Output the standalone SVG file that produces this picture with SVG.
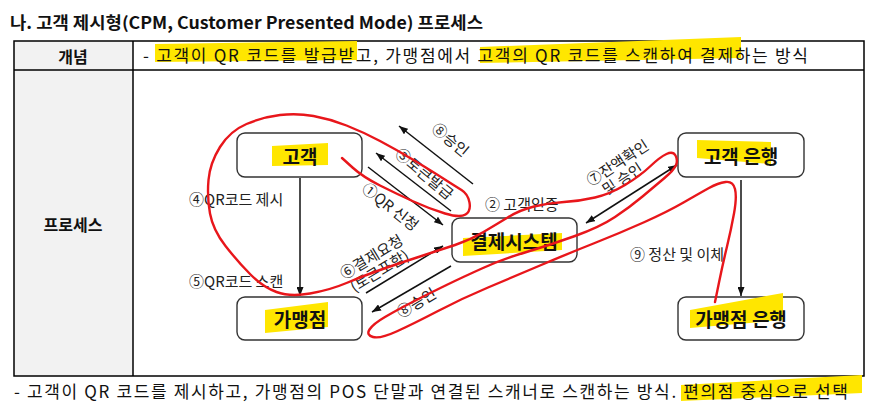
<svg xmlns="http://www.w3.org/2000/svg" width="882" height="416" viewBox="0 0 882 416">
<style>
text{font-family:"Noto Sans CJK KR","Noto Sans",sans-serif;fill:#111}
.title{font-size:16.5px;font-weight:bold}
.hdr{font-size:16px;font-weight:bold}
.body{font-size:17px}
.node rect{fill:#fff;stroke:#333;stroke-width:1.4}
.nlabel{font-size:19px;font-weight:bold}
.lbl{font-size:15px;fill:#222}
.conn line{stroke:#111;stroke-width:1.5}
.hl{fill:#ffe600}
.red{fill:none;stroke:#e8161b;stroke-width:2.4;stroke-linecap:round;stroke-linejoin:round}
</style>
<defs>
<marker id="ah" viewBox="0 0 9 7" refX="9" refY="3.5" markerWidth="9" markerHeight="7" markerUnits="userSpaceOnUse" orient="auto-start-reverse">
<path d="M0,0 L9,3.5 L0,7 z" fill="#111"/>
</marker>
</defs>
<rect width="882" height="416" fill="#fff"/>
<text class="title" x="10" y="29" textLength="473" lengthAdjust="spacingAndGlyphs">나. 고객 제시형(CPM, Customer Presented Mode) 프로세스</text>
<g id="table">
<rect x="14" y="41" width="119" height="335" fill="#f2f2f2"/>
<rect x="14" y="41" width="850" height="335" fill="none" stroke="#000" stroke-width="1.5"/>
<line x1="14" y1="70" x2="864" y2="70" stroke="#000" stroke-width="1.5"/>
<line x1="133" y1="41" x2="133" y2="376" stroke="#000" stroke-width="1.5"/>
<polygon class="hl" points="155,44 357,41 357,60 155,62"/>
<polygon class="hl" points="480,47 741,37 741,58 480,63"/>
<text class="hdr" x="73" y="56" text-anchor="middle" dominant-baseline="central">개념</text>
<text class="hdr" x="73" y="224" text-anchor="middle" dominant-baseline="central">프로세스</text>
<text class="body" x="143" y="62" textLength="665" lengthAdjust="spacing">- 고객이 QR 코드를 발급받고, 가맹점에서 고객의 QR 코드를 스캔하여 결제하는 방식</text>
</g>
<g id="node-customer" class="node">
<rect x="237" y="133" width="125" height="44" rx="8"/>
<polygon class="hl" points="272,146 328,143 328,165 272,166"/>
<text class="nlabel" x="300" y="155" text-anchor="middle" dominant-baseline="central">고객</text>
</g>
<g id="node-merchant" class="node">
<rect x="237" y="297" width="125" height="43" rx="8"/>
<polygon class="hl" points="265,310 328,302 328,327 265,333"/>
<text class="nlabel" x="300" y="318" text-anchor="middle" dominant-baseline="central">가맹점</text>
</g>
<g id="node-payment" class="node">
<rect x="452" y="218" width="125" height="44" rx="8"/>
<polygon class="hl" points="463,238 562,233 562,250 463,256"/>
<text class="nlabel" x="514" y="240" text-anchor="middle" dominant-baseline="central">결제시스템</text>
</g>
<g id="node-custbank" class="node">
<rect x="678" y="133" width="126" height="44" rx="8"/>
<polygon class="hl" points="697,140 771,142 771,164 697,158"/>
<text class="nlabel" x="741" y="155" text-anchor="middle" dominant-baseline="central">고객 은행</text>
</g>
<g id="node-merchbank" class="node">
<rect x="678" y="297" width="126" height="43" rx="8"/>
<polygon class="hl" points="690,310 783,293 783,320 690,328"/>
<text class="nlabel" x="741" y="318" text-anchor="middle" dominant-baseline="central">가맹점 은행</text>
</g>
<g id="connectors" class="conn">
<line x1="300" y1="178" x2="300" y2="296" marker-end="url(#ah)"/>
<line x1="368" y1="167" x2="443" y2="225" marker-end="url(#ah)"/>
<line x1="451" y1="211" x2="376" y2="153" marker-end="url(#ah)"/>
<line x1="473" y1="184" x2="399" y2="126" marker-end="url(#ah)"/>
<line x1="366" y1="293" x2="443" y2="246" marker-end="url(#ah)"/>
<line x1="451" y1="266" x2="372" y2="312" marker-end="url(#ah)"/>
<line x1="586" y1="223" x2="677" y2="165" marker-start="url(#ah)" marker-end="url(#ah)"/>
<line x1="741" y1="180" x2="741" y2="296" marker-end="url(#ah)"/>
</g>
<g id="labels">
<text class="lbl" x="189" y="198" dominant-baseline="central">④QR코드 제시</text>
<text class="lbl" x="189" y="280" dominant-baseline="central">⑤QR코드 스캔</text>
<text class="lbl" x="485" y="203" dominant-baseline="central">② 고객인증</text>
<text class="lbl" x="630" y="253" dominant-baseline="central">⑨ 정산 및 이체</text>
<text class="lbl" transform="translate(391,206) rotate(38)" text-anchor="middle" dominant-baseline="central">①QR 신청</text>
<text class="lbl" transform="translate(425,173) rotate(40)" text-anchor="middle" dominant-baseline="central">③토큰발급</text>
<text class="lbl" transform="translate(451,139) rotate(40)" text-anchor="middle" dominant-baseline="central">⑧승인</text>
<text class="lbl" transform="translate(371,256) rotate(-31)" text-anchor="middle" dominant-baseline="central">⑥결제요청</text>
<text class="lbl" transform="translate(379,270) rotate(-31)" text-anchor="middle" dominant-baseline="central">(토큰포함)</text>
<text class="lbl" transform="translate(416,302) rotate(-31)" text-anchor="middle" dominant-baseline="central">⑧승인</text>
<text class="lbl" transform="translate(617,162) rotate(-33)" text-anchor="middle" dominant-baseline="central">⑦잔액확인</text>
<text class="lbl" transform="translate(622,178) rotate(-33)" text-anchor="middle" dominant-baseline="central">및 승인</text>
</g>
<polygon class="hl" points="681,385 862,375 862,393 681,401"/>
<text class="body" x="14" y="398" textLength="834" lengthAdjust="spacing">- 고객이 QR 코드를 제시하고, 가맹점의 POS 단말과 연결된 스캐너로 스캔하는 방식. 편의점 중심으로 선택</text>
<path class="red" d="M342,158 L352.5,167.5 Q363,177 380,185.5 Q397,194 413.5,201.5 Q430,209 445,213.5 Q460,218 465.5,214.5 Q471,211 469.5,202.5 Q468,194 461.5,190 Q455,186 442.5,178 Q430,170 413.5,160 Q397,150 380,141 Q363,132 346.5,125.5 Q330,119 313.5,116 Q297,113 280,115 Q263,117 246.5,124 Q230,131 220,147 Q210,163 208.5,180 Q207,197 210,213.5 Q213,230 225.5,246 Q238,262 250.5,274.5 Q263,287 276.5,292 Q290,297 310,293.5 Q330,290 346.5,283 Q363,276 380,270 Q397,264 418.5,257 Q440,250 455,245 Q470,240 483.5,232 Q497,224 508.5,217 Q520,210 534,206.5 Q548,203 564,202 Q580,201 595,197.5 Q610,194 625,185 Q640,176 650,166.5 Q660,157 666.5,154 Q673,151 675.5,155.5 Q678,160 676,165 Q674,170 664.5,178 Q655,186 642.5,196.5 Q630,207 615,217 Q600,227 575,236 Q550,245 526.5,252 Q503,259 483,268 Q463,277 446.5,285 Q430,293 413.5,301.5 Q397,310 385,317 Q373,324 369.5,329.5 Q366,335 373,337 Q380,339 396.5,331.5 Q413,324 438,311 Q463,298 488,287.5 Q513,277 540,265.5 Q567,254 593.5,243.5 Q620,233 643.5,222.5 Q667,212 683.5,202.5 Q700,193 709,188 Q718,183 725.5,182 Q733,181 735,189 Q737,197 734,213.5 Q731,230 727,246.5 Q723,263 719,282.5 L715,302"/>
</svg>
